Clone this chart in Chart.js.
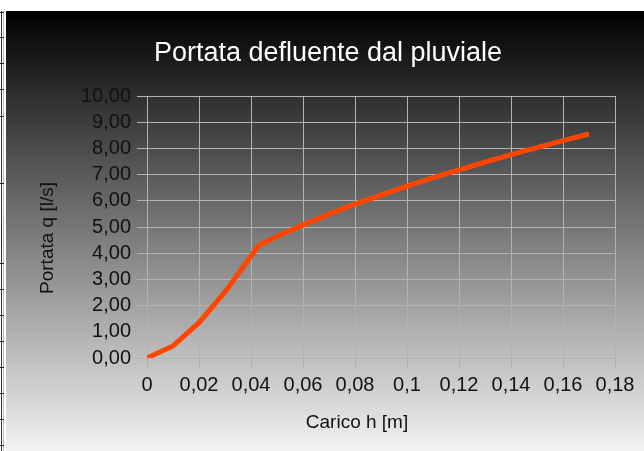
<!DOCTYPE html>
<html>
<head>
<meta charset="utf-8">
<script src="https://cdn.jsdelivr.net/npm/chart.js@4/dist/chart.umd.min.js"></script>
<style>
  html, body { margin: 0; padding: 0; background: #fff; width: 644px; height: 451px; overflow: hidden; }
  #strip { position: absolute; left: 0; top: 11px; width: 6px; height: 440px; }
  #strip .v1 { position: absolute; left: 1px; top: 0; width: 1px; height: 440px; background: #333; }
  #strip .v2 { position: absolute; left: 3px; top: 0; width: 1px; height: 440px; background: #bbb; }
  #strip .t { position: absolute; left: 0; width: 4px; height: 1px; background: #222; }
  #wrap { position: absolute; left: 6px; top: 11px; width: 638px; height: 440px;
          background: linear-gradient(to bottom, #000000 0%, #f2f2f2 100%); }
  canvas { display: block; }
</style>
</head>
<body>
<div id="strip"></div>
<div id="wrap"><canvas id="c" width="638" height="440"></canvas></div>
<script>
// ---- data ----
const hValues = [0, 0.01, 0.02, 0.03, 0.043, 0.05, 0.06, 0.07, 0.08, 0.09, 0.10, 0.11, 0.12, 0.13, 0.14, 0.15, 0.16, 0.17];
const qValues = [0, 0.46, 1.35, 2.52, 4.30, 4.64, 5.08, 5.49, 5.87, 6.22, 6.56, 6.88, 7.18, 7.48, 7.76, 8.03, 8.30, 8.55];
const xTickLabels = ["0", "0,02", "0,04", "0,06", "0,08", "0,1", "0,12", "0,14", "0,16", "0,18"];
const yTickLabels = ["0,00", "1,00", "2,00", "3,00", "4,00", "5,00", "6,00", "7,00", "8,00", "9,00", "10,00"];
const chartTitle = "Portata defluente dal pluviale";
const xTitle = "Carico h [m]";
const yTitle = "Portata q [l/s]";

// decorative left strip (spreadsheet edge)
const strip = document.getElementById('strip');
strip.innerHTML = '<div class="v1"></div><div class="v2"></div>';
[1, 26, 52, 78, 105, 172, 252, 278, 304, 330, 356, 382, 408, 434].forEach(y => {
  const d = document.createElement('div'); d.className = 't'; d.style.top = y + 'px'; strip.appendChild(d);
});

const points = hValues.map((h, i) => ({ x: h, y: qValues[i] }));
const gridColor = '#b3b3b3';
const textColor = '#111111';
const fontFamily = '"Liberation Sans", Arial, sans-serif';

const titles = {
  id: 'titles',
  afterDraw(chart) {
    const ctx = chart.ctx;
    ctx.save();
    ctx.textAlign = 'center';
    ctx.fillStyle = '#ffffff';
    ctx.font = '27px ' + fontFamily;
    ctx.textBaseline = 'alphabetic';
    ctx.fillText(chartTitle, 322, 50);
    ctx.fillStyle = textColor;
    ctx.font = '19px ' + fontFamily;
    ctx.textBaseline = 'middle';
    ctx.fillText(xTitle, 351, 412);
    ctx.translate(42, 227);
    ctx.rotate(-Math.PI / 2);
    ctx.fillText(yTitle, 0, 0);
    ctx.restore();
  }
};

new Chart(document.getElementById('c'), {
  type: 'line',
  data: {
    datasets: [{
      data: points,
      borderColor: '#ff4500',
      borderWidth: 5,
      pointRadius: 0,
      pointHoverRadius: 0,
      tension: 0,
      fill: false,
      borderCapStyle: 'butt',
      borderJoinStyle: 'miter'
    }]
  },
  options: {
    responsive: false,
    devicePixelRatio: 1,
    animation: false,
    layout: { padding: { left: 0, right: 29, top: 85, bottom: 0 } },
    plugins: {
      legend: { display: false },
      tooltip: { enabled: false },
      title: { display: false }
    },
    scales: {
      x: {
        type: 'linear',
        min: 0, max: 0.18,
        ticks: {
          stepSize: 0.02,
          color: textColor,
          padding: 5,
          maxRotation: 0,
          autoSkip: false,
          font: { family: fontFamily, size: 20 },
          callback: (v, i) => xTickLabels[i]
        },
        grid: { color: gridColor, tickColor: gridColor, tickLength: 10, lineWidth: 1 },
        border: { color: gridColor, width: 1 },
        afterFit(scale) { scale.height = 93; }
      },
      y: {
        type: 'linear',
        min: 0, max: 10,
        ticks: {
          stepSize: 1,
          color: textColor,
          padding: 6,
          autoSkip: false,
          font: { family: fontFamily, size: 20 },
          callback: (v, i) => yTickLabels[i]
        },
        grid: { color: gridColor, tickColor: gridColor, tickLength: 10, lineWidth: 1 },
        border: { color: gridColor, width: 1 },
        afterFit(scale) { scale.width = 141; }
      }
    }
  },
  plugins: [titles]
});
</script>
</body>
</html>
